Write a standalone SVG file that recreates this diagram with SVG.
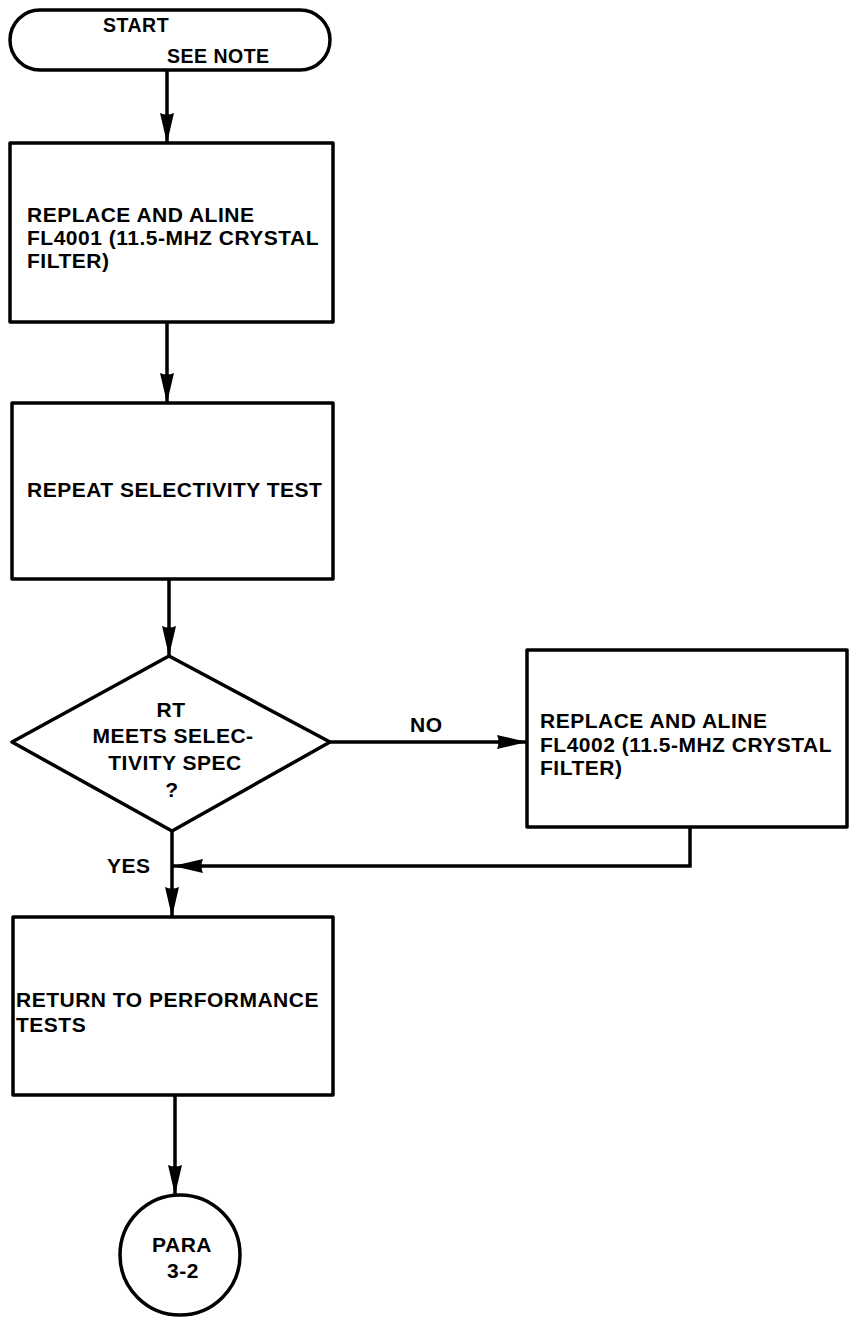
<svg xmlns="http://www.w3.org/2000/svg" width="849" height="1317" viewBox="0 0 849 1317">
  <style>
    .shape { fill: #fff; stroke: #000; stroke-width: 3.5; stroke-linejoin: round; }
    .conn { fill: none; stroke: #000; stroke-width: 3.5; }
    .t { font-family: "Liberation Sans", Arial, sans-serif; font-weight: bold; font-size: 21px; fill: #000; letter-spacing: 0.5px; }
    .s { font-size: 19.5px; }
    .c { text-anchor: middle; }
  </style>
  <defs>
    <marker id="arrow" markerUnits="userSpaceOnUse" markerWidth="32" markerHeight="18" refX="30" refY="9" orient="auto">
      <path d="M0,2 L30,9 L0,16 Q3,9 0,2 z" fill="#000"/>
    </marker>
  </defs>
  <rect width="849" height="1317" fill="#fff"/>

  <g id="connectors">
    <line class="conn" x1="167" y1="70" x2="167" y2="143" marker-end="url(#arrow)"/>
    <line class="conn" x1="167" y1="322" x2="167" y2="403" marker-end="url(#arrow)"/>
    <line class="conn" x1="169" y1="579" x2="169" y2="656" marker-end="url(#arrow)"/>
    <line class="conn" x1="330" y1="742" x2="527" y2="742" marker-end="url(#arrow)"/>
    <polyline class="conn" points="690,827 690,866 173,866" marker-end="url(#arrow)"/>
    <line class="conn" x1="172" y1="831" x2="172" y2="917" marker-end="url(#arrow)"/>
    <line class="conn" x1="175" y1="1095" x2="175" y2="1195" marker-end="url(#arrow)"/>
    <text class="t" x="410" y="732">NO</text>
    <text class="t" x="107" y="873">YES</text>
  </g>

  <g id="start">
    <rect class="shape" x="10" y="10" width="320" height="60" rx="30" ry="30"/>
    <text class="t s" x="103" y="32">START</text>
    <text class="t s" x="167" y="63">SEE NOTE</text>
  </g>

  <g id="replace1">
    <rect class="shape" x="10" y="143" width="323" height="179"/>
    <text class="t" x="27" y="222">REPLACE AND ALINE</text>
    <text class="t" x="27" y="245">FL4001 (11.5-MHZ CRYSTAL</text>
    <text class="t" x="27" y="268">FILTER)</text>
  </g>

  <g id="repeat">
    <rect class="shape" x="12" y="403" width="321" height="176"/>
    <text class="t" x="27" y="497">REPEAT SELECTIVITY TEST</text>
  </g>

  <g id="decision">
    <polygon class="shape" points="169,656 330,742 172,831 12,742"/>
    <text class="t c" x="171" y="717">RT</text>
    <text class="t c" x="173" y="743">MEETS SELEC-</text>
    <text class="t c" x="175" y="770">TIVITY SPEC</text>
    <text class="t c" x="172" y="797">?</text>
  </g>

  <g id="replace2">
    <rect class="shape" x="527" y="650" width="320" height="177"/>
    <text class="t" x="540" y="728">REPLACE AND ALINE</text>
    <text class="t" x="540" y="752">FL4002 (11.5-MHZ CRYSTAL</text>
    <text class="t" x="540" y="775">FILTER)</text>
  </g>

  <g id="return">
    <rect class="shape" x="13" y="917" width="320" height="178"/>
    <text class="t" x="16" y="1007">RETURN TO PERFORMANCE</text>
    <text class="t" x="16" y="1032">TESTS</text>
  </g>

  <g id="para">
    <circle class="shape" cx="180" cy="1255" r="60"/>
    <text class="t c" x="182" y="1252">PARA</text>
    <text class="t c" x="183" y="1278">3-2</text>
  </g>
</svg>
